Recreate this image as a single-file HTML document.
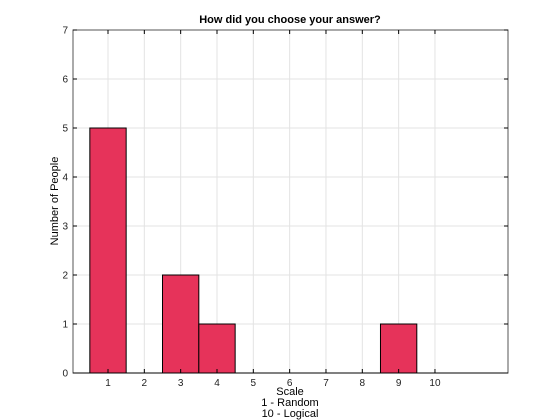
<!DOCTYPE html>
<html><head><meta charset="utf-8"><style>
body{margin:0;background:#fff;font-family:"Liberation Sans",sans-serif}
</style></head><body>
<svg width="560" height="420" viewBox="0 0 560 420" id="c" style="display:block">
<rect width="560" height="420" fill="#fff"/>
<g id="grid"></g>
<g id="bars"></g>
<g id="axes"></g>
<text x="290" y="23" text-anchor="middle" font-size="11" font-weight="bold">How did you choose your answer?</text>
<text x="290" y="395" text-anchor="middle" font-size="11">Scale</text>
<text x="290" y="406" text-anchor="middle" font-size="11">1 - Random</text>
<text x="290" y="417" text-anchor="middle" font-size="11">10 - Logical</text>
<text transform="translate(58,201) rotate(-90)" text-anchor="middle" font-size="11">Number of People</text>
</svg>
<script>
const categories=[1,2,3,4,5,6,7,8,9,10];
const counts=[5,0,2,1,0,0,0,0,1,0];
const xTicks=[1,2,3,4,5,6,7,8,9,10];
const yTicks=[0,1,2,3,4,5,6,7];
const L=73,R=508,T=30,B=373;
const xs=v=>108+(v-1)*36.33;
const ys=v=>B-(v/7)*(B-T);
const NS="http://www.w3.org/2000/svg";
function mk(p,t,a){const e=document.createElementNS(NS,t);for(const k in a)e.setAttribute(k,a[k]);p.appendChild(e);return e;}
const g=document.getElementById('grid'),b=document.getElementById('bars'),ax=document.getElementById('axes');
xTicks.forEach(v=>{const l=mk(g,'line',{x1:xs(v),x2:xs(v),y1:T,y2:B,stroke:'#e3e3e3','stroke-width':1});

});
yTicks.forEach(v=>{const l=mk(g,'line',{x1:L,x2:R,y1:ys(v),y2:ys(v),stroke:'#e3e3e3','stroke-width':1});

});
categories.forEach((c,i)=>{const r=mk(b,'rect',{x:xs(c-0.5),y:ys(counts[i]),width:xs(c+0.5)-xs(c-0.5),height:B-ys(counts[i]),fill:'#e6335a',stroke:'#000','stroke-width':1});

});
const frame=mk(ax,'rect',{x:L,y:T,width:R-L,height:B-T,fill:'none',stroke:'#555','stroke-width':1});


const xb=mk(ax,'line',{x1:L,x2:R,y1:B,y2:B,stroke:'#000','stroke-width':1});


xTicks.forEach(v=>{mk(ax,'line',{x1:xs(v),x2:xs(v),y1:B,y2:B-4,stroke:'#000'});mk(ax,'line',{x1:xs(v),x2:xs(v),y1:T,y2:T+4,stroke:'#000'});
const t=mk(ax,'text',{x:xs(v),y:B+13,'text-anchor':'middle','font-size':10,fill:'#222'});t.textContent=v;

});
yTicks.forEach(v=>{mk(ax,'line',{x1:L,x2:L+4,y1:ys(v),y2:ys(v),stroke:'#000'});mk(ax,'line',{x1:R,x2:R-4,y1:ys(v),y2:ys(v),stroke:'#000'});
const t=mk(ax,'text',{x:L-5,y:ys(v)+3.5,'text-anchor':'end','font-size':10,fill:'#222'});t.textContent=v;

});
</script>
</body></html>
